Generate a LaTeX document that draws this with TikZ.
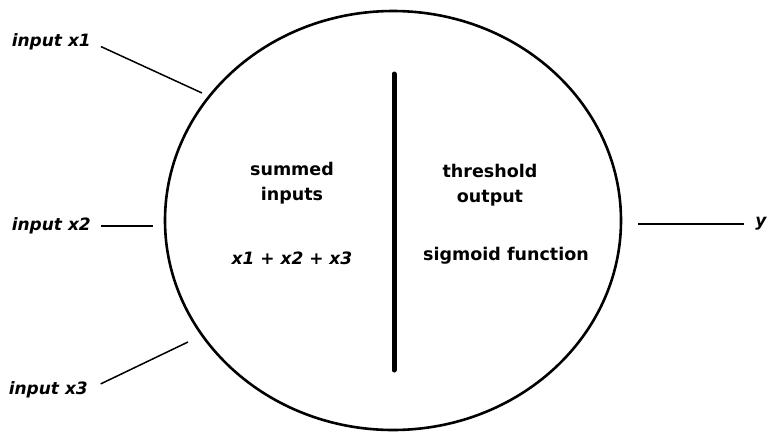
\documentclass[tikz,border=0pt]{standalone}
\usepackage{fontspec}
\setmainfont{DejaVu Sans}
\usetikzlibrary{shapes.geometric, positioning}

\tikzset{
    lbl/.style={font=\fontsize{17.5}{25}\selectfont\bfseries, align=center, inner sep=0pt},
    inlbl/.style={lbl, font=\fontsize{17}{25}\selectfont\bfseries\itshape},
    wire/.style={line width=1.5pt}
}

\begin{document}
\begin{tikzpicture}[x=1pt, y=-1pt]

    \useasboundingbox (0,0) rectangle (772,432);

    % Neuron body
    \node[draw, ellipse, line width=2.6pt, minimum width=456pt, minimum height=419pt, inner sep=0pt] (neuron) at (393,220.5) {};

    % Divider
    \draw[line width=5pt, line cap=round] (394,74) -- (394,370);

    % Left half
    \node[lbl] (summed) at (292,183) {summed\\inputs};
    \node[inlbl] (sum) at (292,258) {x1 + x2 + x3};

    % Right half
    \node[lbl] (thresh) at (490,185) {threshold\\output};
    \node[lbl] (sigmoid) at (506,256) {sigmoid function};

    % Input labels
    \node[inlbl, anchor=east] (in1) at (91,42) {input x1};
    \node[inlbl, anchor=east] (in2) at (91,226) {input x2};
    \node[inlbl, anchor=east] (in3) at (88,390) {input x3};

    % Output label
    \node[inlbl] (out) at (761,224) {y};

    % Wire ends near the body
    \coordinate (e1) at (202,93);
    \coordinate (e2) at (153,226);
    \coordinate (e3) at (188,342);
    \coordinate (ey) at (638,224);

    % Input and output wires
    \draw[wire, shorten <=11pt] (in1.east) -- (e1);
    \draw[wire, shorten <=10pt] (in2.east) -- (e2);
    \draw[wire, shorten <=14pt] (in3.east) -- (e3);
    \draw[wire, shorten >=11pt] (ey) -- (out.west);

\end{tikzpicture}
\end{document}
